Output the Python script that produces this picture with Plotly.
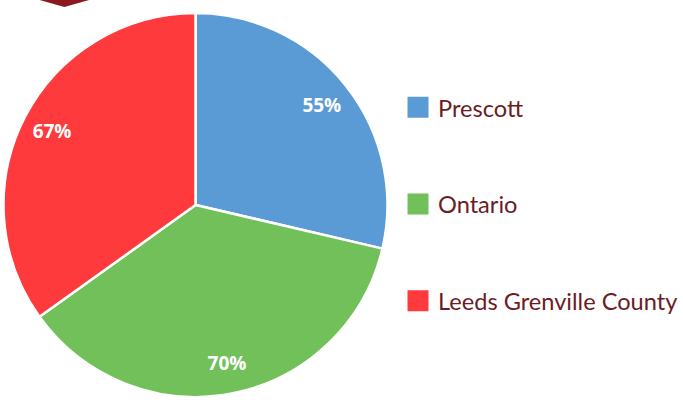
import plotly.graph_objects as go

labels = ['Prescott', 'Ontario', 'Leeds Grenville County']
values = [55, 70, 67]
colors = ['#5b9bd5', '#72c05a', '#fe3a3c']

text_color = '#6b1c24'
pie_domain = dict(x=[0.0052, 0.5732], y=[0.0148, 0.9728])

fig = go.Figure()

# solid pie with white separators
fig.add_trace(go.Pie(labels=labels, values=values, sort=False, direction='clockwise',
                     rotation=0, marker=dict(colors=colors, line=dict(color='white', width=2.5)),
                     textinfo='none', hoverinfo='label+value', showlegend=False,
                     domain=pie_domain))

# transparent ring on top, only used to place the value labels near the rim
fig.add_trace(go.Pie(labels=labels, values=values, sort=False, direction='clockwise',
                     rotation=0, hole=0.68,
                     marker=dict(colors=['rgba(0,0,0,0)'] * 3, line=dict(width=0)),
                     texttemplate='%{value}%', textposition='inside',
                     insidetextorientation='horizontal',
                     textfont=dict(family='Open Sans', size=19, color='white', weight='bold'),
                     hoverinfo='skip', showlegend=False,
                     domain=pie_domain))

# legend entries
for i, lab in enumerate(labels):
    fig.add_trace(go.Scatter(x=[None], y=[None], mode='markers', name=lab,
                             legendgroup=lab,
                             marker=dict(symbol='square', size=16, color=colors[i],
                                         line=dict(color=colors[i], width=5))))

fig.update_layout(
    width=683, height=405,
    margin=dict(l=0, r=0, t=0, b=0),
    paper_bgcolor='white', plot_bgcolor='white',
    xaxis=dict(visible=False), yaxis=dict(visible=False),
    showlegend=True,
    legend=dict(x=0.589, y=0.495, xanchor='left', yanchor='middle',
                font=dict(family='Lato', size=23.6, color=text_color),
                tracegroupgap=63, itemclick=False, itemdoubleclick=False),
    shapes=[dict(type='path', xref='paper', yref='paper',
                 path='M 0.0586 1.0 L 0.1318 1.0 L 0.0952 0.9827 Z',
                 fillcolor='#8b1a1f', line=dict(width=0))],
)

fig.write_html("out.html", config=dict(displayModeBar=False),
               post_script="document.body.style.margin='0';")
